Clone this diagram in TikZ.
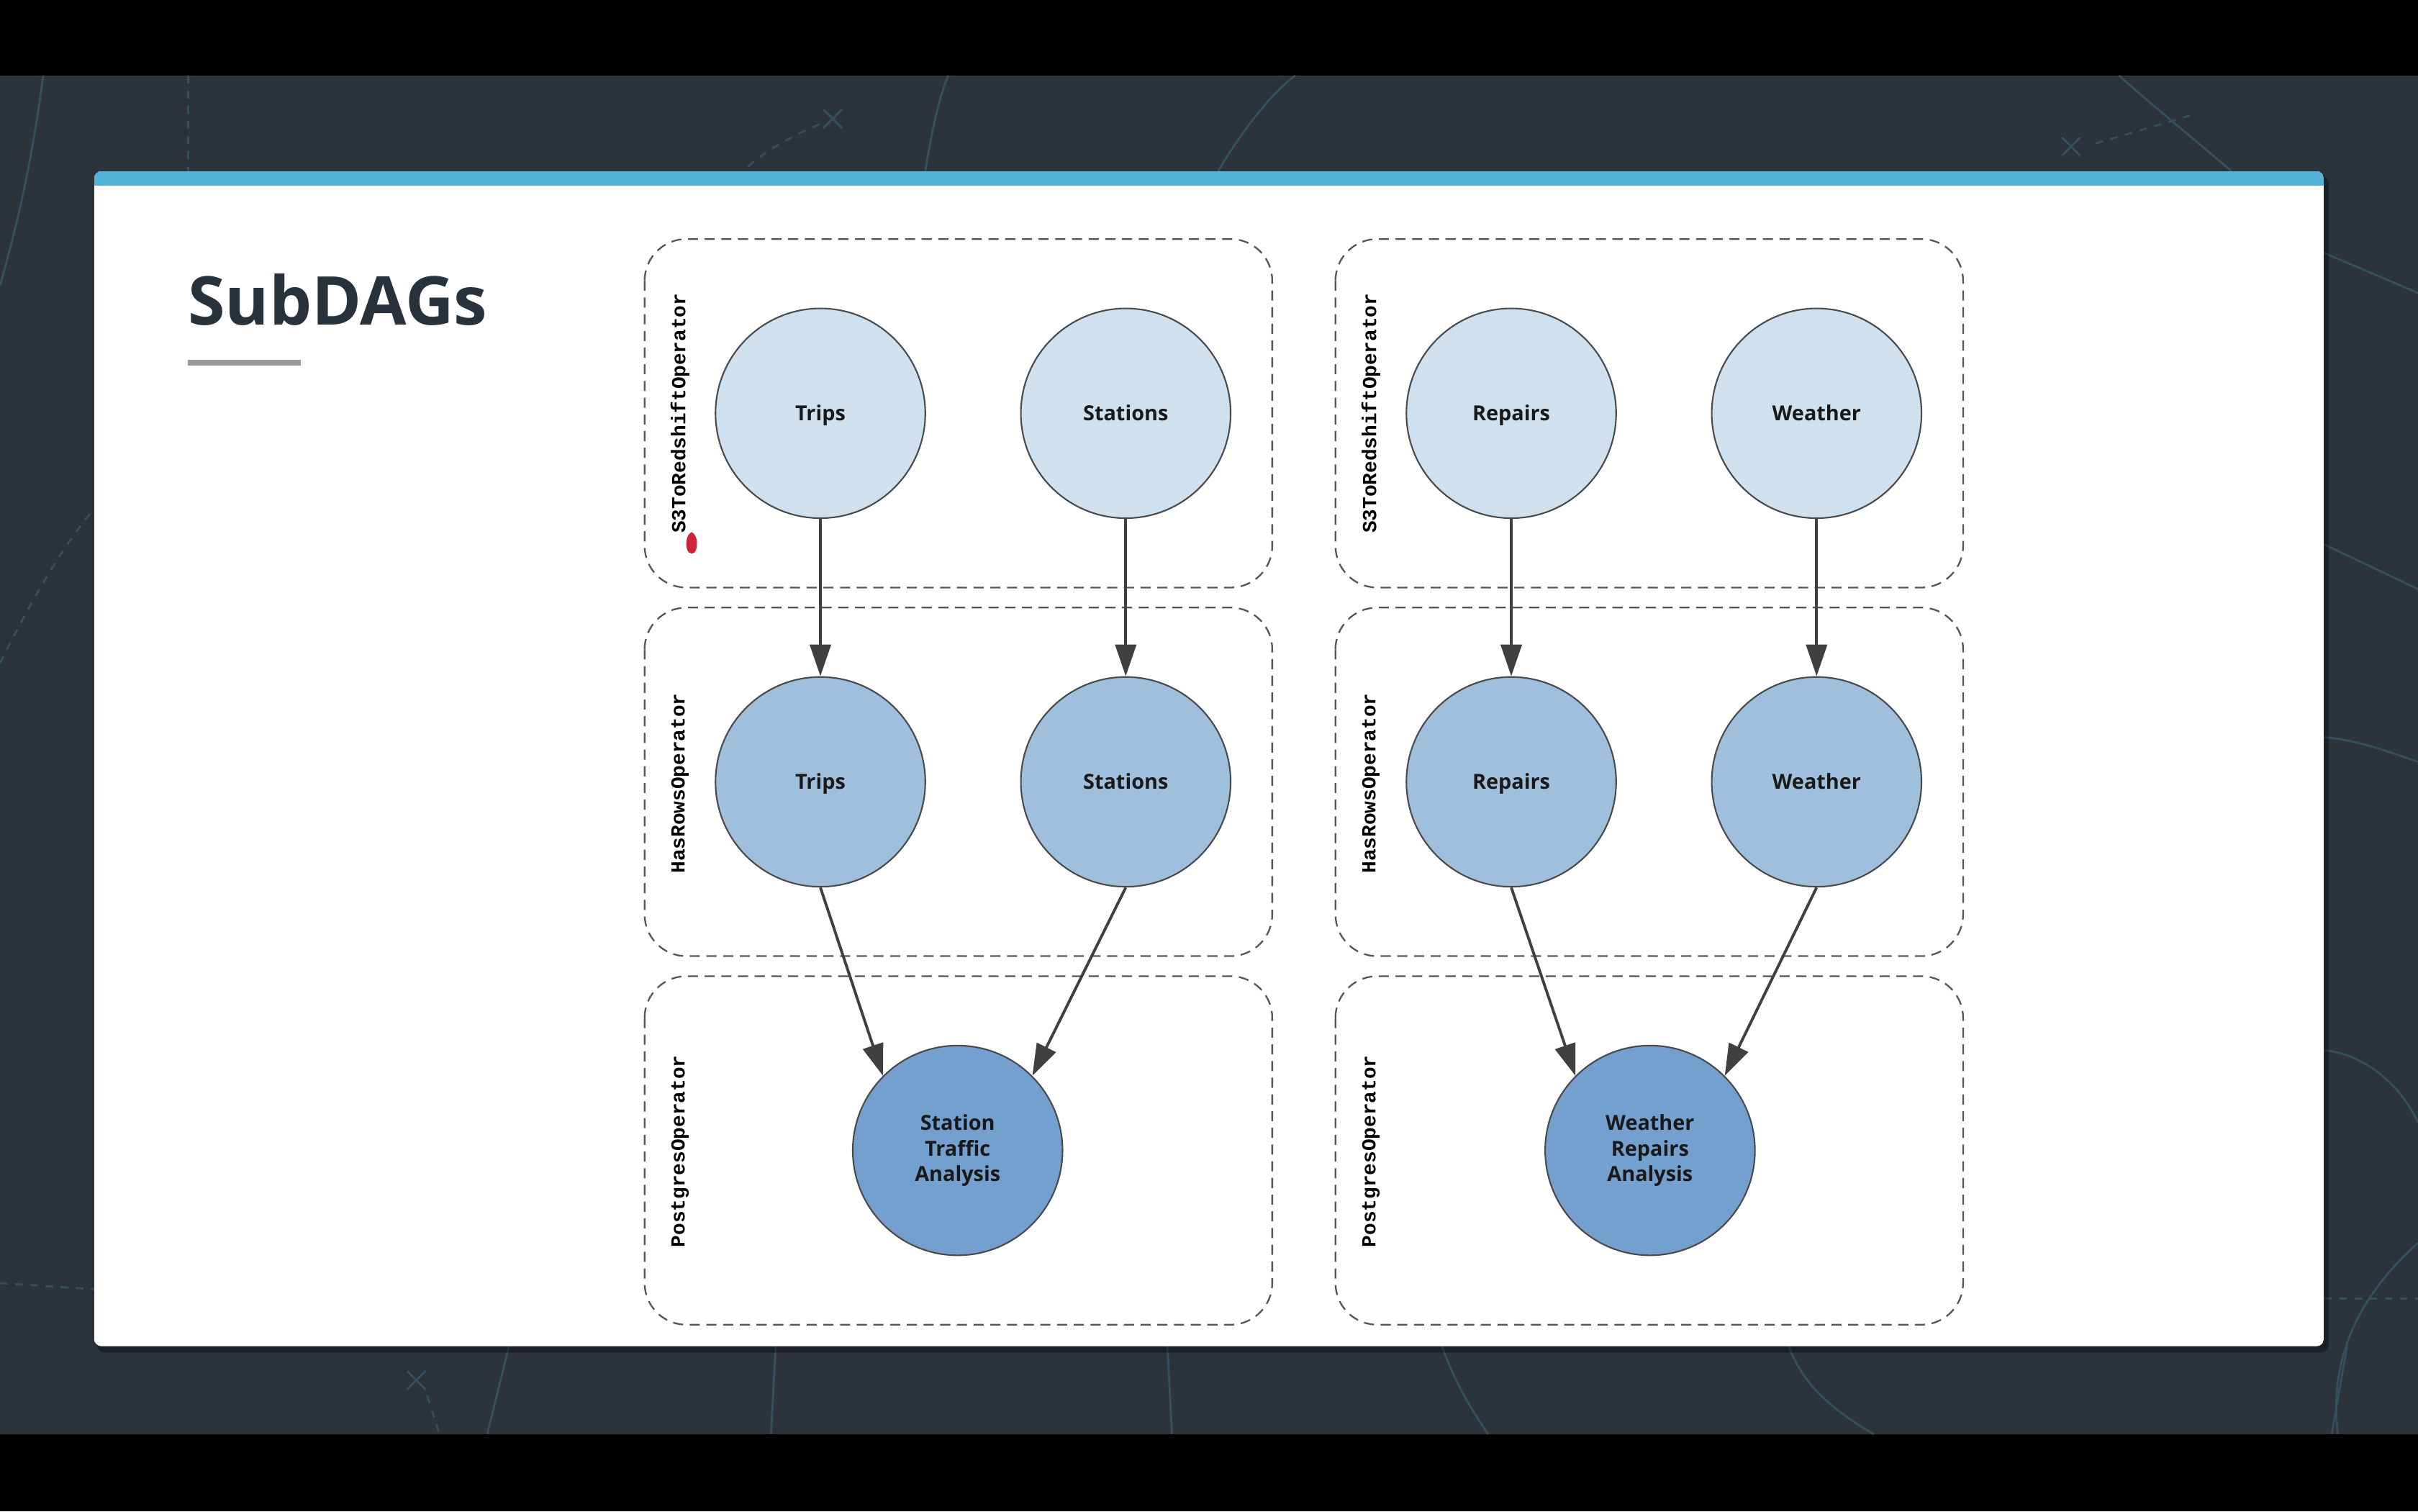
\documentclass[tikz,border=0pt]{standalone}
\usepackage{fontspec}
\setmainfont{Open Sans}
\newfontfamily\opfont{Liberation Mono}
\usetikzlibrary{arrows.meta}

\definecolor{slidebg}{HTML}{2C333B}
\definecolor{decoline}{HTML}{33505D}
\definecolor{stripblue}{HTML}{52B4D8}
\definecolor{titleink}{HTML}{27323C}
\definecolor{rulegray}{HTML}{9A9A9A}
\definecolor{boxline}{HTML}{555555}
\definecolor{taskline}{HTML}{4A4A4A}
\definecolor{arrowgray}{HTML}{404040}
\definecolor{loadfill}{HTML}{CFE0EE}
\definecolor{checkfill}{HTML}{A0BFDD}
\definecolor{sqlfill}{HTML}{73A0CF}
\definecolor{pointer}{HTML}{D0243C}

\tikzset{
  task/.style={circle, draw=taskline, line width=0.6pt, minimum size=2.914cm,
    inner sep=0pt, text=black!90, font=\fontsize{8.2}{10}\selectfont\bfseries},
  load/.style={task, fill=loadfill, text height=1.55ex, text depth=0.45ex},
  check/.style={task, fill=checkfill, text height=1.55ex, text depth=0.45ex},
  sql/.style={task, fill=sqlfill, align=center},
  opbox/.style={draw=boxline, line width=0.65pt, dash pattern=on 4pt off 2.6pt,
    rounded corners=0.58cm},
  oplabel/.style={rotate=90, inner sep=0pt, font=\opfont\fontsize{7.9}{9}\selectfont\bfseries},
  flow/.style={draw=arrowgray, line width=1.1pt, -{Triangle[length=4.4mm,width=2.9mm]}},
  deco/.style={draw=decoline, line width=0.8pt}
}

\begin{document}
\begin{tikzpicture}[x=0.0214286cm, y=-0.0214286cm]
    \useasboundingbox (0,0) rectangle (1568,980);
    % backdrop
    \fill[slidebg] (0,0) rectangle (1568,980);
    \fill[black] (0,0) rectangle (1568,49);
    \fill[black] (0,930) rectangle (1568,980);
    \draw[deco] (28,49) .. controls (20,110) and (10,150) .. (0,185);
    \draw[deco,dashed] (122,49) -- (122,111);
    \draw[deco,dashed] (0,430) .. controls (20,390) and (40,355) .. (61,330);
    \draw[deco,dashed] (0,832) -- (61,836);
    \draw[deco] (600,111) .. controls (605,80) and (610,60) .. (615,49);
    \draw[deco] (790,111) .. controls (805,85) and (825,60) .. (840,49);
    \draw[deco,dashed] (485,108) .. controls (500,95) and (520,85) .. (533,80);
    \draw[deco] (534,71) -- (546,83) (534,83) -- (546,71);
    \draw[deco] (1374,49) .. controls (1400,72) and (1425,92) .. (1447,111);
    \draw[deco,dashed] (1359,93) -- (1420,75);
    \draw[deco] (1337,89) -- (1349,101) (1337,101) -- (1349,89);
    \draw[deco] (1507,164) -- (1568,190);
    \draw[deco] (1507,353) -- (1568,382);
    \draw[deco] (1507,478) .. controls (1530,480) and (1550,488) .. (1568,494);
    \draw[deco] (1507,681) .. controls (1530,683) and (1555,700) .. (1568,728);
    \draw[deco] (1516,930) .. controls (1510,880) and (1530,840) .. (1568,806);
    \draw[deco,dashed] (1507,842) -- (1568,842);
    \draw[deco] (330,873) -- (316,930);
    \draw[deco] (503,873) -- (500,930);
    \draw[deco] (757,873) -- (760,930);
    \draw[deco] (935,873) .. controls (945,900) and (955,915) .. (965,930);
    \draw[deco] (1160,873) .. controls (1170,900) and (1190,915) .. (1215,930);
    \draw[deco] (1522,873) -- (1512,930);
    \draw[deco] (264,889) -- (276,901) (264,901) -- (276,889);
    \draw[deco,dashed] (277,905) -- (285,930);
    % slide card
    \fill[black, opacity=0.35, rounded corners=3pt] (63,114) rectangle (1510,877);
    \begin{scope}
        \clip[rounded corners=3pt] (61,111) rectangle (1507,873);
        \fill[white] (61,111) rectangle (1507,873);
        \fill[stripblue] (61,111) rectangle (1507,120.4);
    \end{scope}
    \node[anchor=base west, inner sep=0pt, text=titleink,
        font=\fontsize{26.6}{30}\selectfont\bfseries] (title) at (121.5,210.5) {SubDAGs};
    \fill[rulegray] (122,233.5) rectangle (195,237);
    % operator groups
    \foreach \dx in {0,448} {
        \foreach \y in {155,394,633} {
            \draw[opbox] (418+\dx,\y) rectangle (825+\dx,\y+226);
        }
    }
    \foreach \x/\g in {441/a,889/b} {
        \node[oplabel] (s3\g) at (\x,268) {S3ToRedshiftOperator};
        \node[oplabel] (rows\g) at (\x,508) {HasRowsOperator};
        \node[oplabel] (pg\g) at (\x,746.5) {PostgresOperator};
    }
    \fill[pointer] (448.5,345) .. controls (452,347) and (452.5,352) .. (451.5,356)
        .. controls (450.5,360) and (446.5,360) .. (445.5,356)
        .. controls (444.5,352) and (445,347) .. (448.5,345);
    % tasks
    \node[load] (tripsload) at (532,268) {Trips};
    \node[load] (stationsload) at (730,268) {Stations};
    \node[load] (repairsload) at (980,268) {Repairs};
    \node[load] (weatherload) at (1178,268) {Weather};
    \node[check] (tripscheck) at (532,507) {Trips};
    \node[check] (stationscheck) at (730,507) {Stations};
    \node[check] (repairscheck) at (980,507) {Repairs};
    \node[check] (weathercheck) at (1178,507) {Weather};
    \node[sql] (stationtraffic) at (621,746) {Station\\Traffic\\Analysis};
    \node[sql] (weatherrepairs) at (1070,746) {Weather\\Repairs\\Analysis};
    % dependencies
    \foreach \t in {trips,stations,repairs,weather} {
        \draw[flow] (\t load) -- (\t check);
    }
    \draw[flow] (tripscheck.south) -- (stationtraffic.135);
    \draw[flow] (stationscheck.south) -- (stationtraffic.45);
    \draw[flow] (repairscheck.south) -- (weatherrepairs.135);
    \draw[flow] (weathercheck.south) -- (weatherrepairs.45);
\end{tikzpicture}
\end{document}
